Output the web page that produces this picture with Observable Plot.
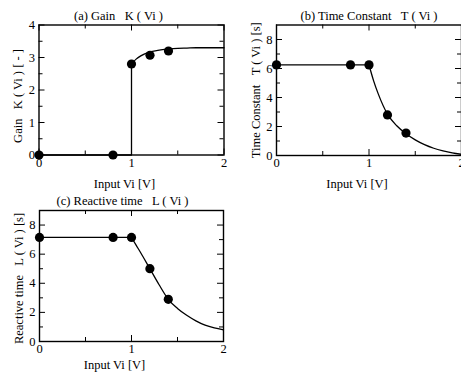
<!DOCTYPE html>
<html>
<head>
<meta charset="utf-8">
<script src="https://cdn.jsdelivr.net/npm/d3@7"></script>
<script src="https://cdn.jsdelivr.net/npm/@observablehq/plot@0.6"></script>
<style>
  html, body { margin: 0; padding: 0; background: #fff; }
  #fig { position: relative; width: 461px; height: 374px; overflow: hidden; background: #fff; }
  #fig > div { position: absolute; }
  #fig svg { overflow: visible; max-width: none !important; display: block; }
</style>
</head>
<body>
<div id="fig"></div>
<script>
// ---- data ----
const dotX = [0, 0.8, 1.0, 1.2, 1.4];
const gainDots = [0, 0, 2.8, 3.07, 3.2];
const timeConstDots = [6.25, 6.25, 6.25, 2.8, 1.55];
const reactiveDots = [7.15, 7.15, 7.15, 5.0, 2.9];

// piecewise-flat part of each fitted curve (x from 0 to 1)
const stepX = [0, 1, 1];
const gainStep = [0, 0, 2.8];
const flatX = [0, 1];
const timeConstFlat = [6.25, 6.25];
const reactiveFlat = [7.15, 7.15];

// smooth part of each fitted curve (x from 1 to 2)
const curveX = [1.0, 1.05, 1.1, 1.2, 1.3, 1.4, 1.5, 1.6, 1.7, 1.8, 1.9, 2.0];
const gainCurve = [2.8, 2.95, 3.05, 3.17, 3.23, 3.26, 3.28, 3.29, 3.3, 3.3, 3.3, 3.3];
const timeConstCurve = [6.25, 5.15, 4.25, 2.85, 2.05, 1.5, 1.08, 0.75, 0.5, 0.32, 0.18, 0.08];
const reactiveCurve = [7.15, 6.62, 6.1, 5.0, 3.9, 2.9, 2.27, 1.8, 1.42, 1.12, 0.93, 0.8];

const xMajor = [0, 1, 2];
const xMinor = [0.5, 1.5];
const gainMajor = [0, 1, 2, 3, 4];
const gainMinor = [0.5, 1.5, 2.5, 3.5];
const timeMajor = [0, 2, 4, 6, 8];
const timeMinor = [1, 3, 5, 7];

const titles = ["(a) Gain\u00a0\u00a0\u00a0K ( Vi )", "(b) Time Constant\u00a0\u00a0\u00a0T ( Vi )", "(c) Reactive time\u00a0\u00a0\u00a0L ( Vi )"];
const yLabels = ["Gain\u00a0\u00a0\u00a0K ( Vi ) [ - ]", "Time Constant\u00a0\u00a0\u00a0T ( Vi ) [s]", "Reactive time\u00a0\u00a0\u00a0L ( Vi ) [s]"];
const xLabel = "Input Vi [V]";

const FONT = "Liberation Serif";
const zip = (xs, ys) => xs.map((x, i) => ({x, y: ys[i]}));

function panel(o) {
  const fw = o.width - o.mL - o.mR;
  const fh = o.height - o.mT - o.mB;
  const ML = 6, mn = 4;
  const txt = {textAnchor: "middle", lineAnchor: "middle", fontSize: 12.5, fontFamily: FONT, fill: "black"};
  const chart = Plot.plot({
    width: o.width, height: o.height,
    marginLeft: o.mL, marginRight: o.mR, marginTop: o.mT, marginBottom: o.mB,
    style: {fontFamily: FONT, fontSize: "12px", color: "black", background: "transparent", maxWidth: "none"},
    x: {domain: [0, 2]},
    y: {domain: o.yDomain},
    marks: [
      // inward ticks on all four sides
      Plot.tickX(xMajor, {x: d => d, insetTop: fh - ML, stroke: "black"}),
      Plot.tickX(xMajor, {x: d => d, insetBottom: fh - ML, stroke: "black"}),
      Plot.tickX(xMinor, {x: d => d, insetTop: fh - mn, stroke: "black"}),
      Plot.tickX(xMinor, {x: d => d, insetBottom: fh - mn, stroke: "black"}),
      Plot.tickY(o.yMajor, {y: d => d, insetRight: fw - ML, stroke: "black"}),
      Plot.tickY(o.yMajor, {y: d => d, insetLeft: fw - ML, stroke: "black"}),
      Plot.tickY(o.yMinor, {y: d => d, insetRight: fw - mn, stroke: "black"}),
      Plot.tickY(o.yMinor, {y: d => d, insetLeft: fw - mn, stroke: "black"}),
      Plot.frame({stroke: "black", strokeWidth: 1.4}),
      Plot.axisX(xMajor, {tickSize: 0, tickPadding: o.xPad, label: null, fontSize: 12.5, fontFamily: FONT, fill: "black"}),
      Plot.axisY(o.yMajor, {tickSize: 0, tickPadding: 4, label: null, fontSize: 12.5, fontFamily: FONT, fill: "black"}),
      Plot.line(o.flat, {x: "x", y: "y", stroke: "black", strokeWidth: 1.3}),
      Plot.line(o.curve, {x: "x", y: "y", stroke: "black", strokeWidth: 1.3, curve: "monotone-x"}),
      Plot.dot(o.dots, {x: "x", y: "y", r: 4.6, fill: "black", stroke: null}),
      Plot.text([o.title], {...txt, frameAnchor: "top", dy: o.titleDy, dx: o.titleDx}),
      Plot.text([o.ylabel], {...txt, frameAnchor: "left", rotate: -90, dx: -21, dy: o.ylabelDy}),
      Plot.text([xLabel], {...txt, frameAnchor: "bottom", dy: o.xlabelDy, dx: o.xlabelDx})
    ]
  });
  const wrap = document.createElement("div");
  wrap.style.left = o.left + "px";
  wrap.style.top = o.top + "px";
  wrap.style.width = o.width + "px";
  wrap.style.height = o.height + "px";
  wrap.appendChild(chart);
  document.getElementById("fig").appendChild(wrap);
}

panel({
  left: 0, top: 0, width: 240, height: 190, mL: 38.5, mR: 16.5, mT: 24.5, mB: 35.5,
  yDomain: [0, 4], yMajor: gainMajor, yMinor: gainMinor, xPad: 3,
  flat: zip(stepX, gainStep), curve: zip(curveX, gainCurve), dots: zip(dotX, gainDots),
  title: titles[0], titleDy: -9.5, titleDx: -13,
  ylabel: yLabels[0], ylabelDy: 6,
  xlabelDy: 28.5, xlabelDx: -7
});

panel({
  left: 230, top: 0, width: 240, height: 190, mL: 46, mR: 9, mT: 24.5, mB: 35,
  yDomain: [0, 9], yMajor: timeMajor, yMinor: timeMinor, xPad: 3,
  flat: zip(flatX, timeConstFlat), curve: zip(curveX, timeConstCurve), dots: zip(dotX, timeConstDots),
  title: titles[1], titleDy: -9.5, titleDx: 0,
  ylabel: yLabels[1], ylabelDy: 0,
  xlabelDy: 28.5, xlabelDx: -12
});

panel({
  left: 0, top: 180, width: 240, height: 194, mL: 39, mR: 17, mT: 30, mB: 33,
  yDomain: [0, 9], yMajor: timeMajor, yMinor: timeMinor, xPad: 3,
  flat: zip(flatX, reactiveFlat), curve: zip(curveX, reactiveCurve), dots: zip(dotX, reactiveDots),
  title: titles[2], titleDy: -10, titleDx: -9,
  ylabel: yLabels[2], ylabelDy: 2.5,
  xlabelDy: 23.5, xlabelDx: -17
});
</script>
</body>
</html>
